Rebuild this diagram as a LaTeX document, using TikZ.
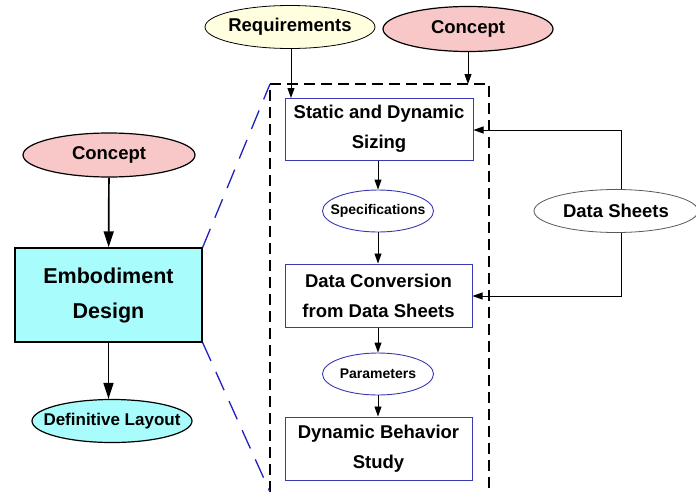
\documentclass[tikz,border=0pt]{standalone}
\usepackage{fontspec}
\setmainfont{Liberation Sans}
\usetikzlibrary{shapes.geometric,arrows.meta}
\definecolor{pinkc}{HTML}{F8C8C8}
\definecolor{yelc}{HTML}{FFFFE0}
\definecolor{cyanc}{HTML}{A8FCFC}
\definecolor{boxblue}{HTML}{3A3AB0}
\definecolor{dashblue}{HTML}{2020C0}
\newcommand{\cz}[1]{\makebox[0pt]{#1}}
\tikzset{
  x=1pt,y=-1pt,
  ell/.style={ellipse,draw=black,line width=1.2pt,inner sep=0pt,font=\bfseries\fontsize{18.5}{20}\selectfont},
  smallell/.style={ellipse,draw=boxblue,line width=0.9pt,fill=white,inner sep=0pt,font=\bfseries\fontsize{14}{15}\selectfont},
  bluebox/.style={rectangle,draw=boxblue,line width=1pt,inner sep=0pt,align=center,font=\bfseries\fontsize{18.5}{30}\selectfont},
  arr/.style={line width=1.7pt,-{Triangle[length=16pt,width=10pt]}},
  sarr/.style={line width=0.9pt,-{Triangle[length=10pt,width=7pt]}},
}
\begin{document}
\begin{tikzpicture}
\useasboundingbox (0,0) rectangle (696,493);
% left column
\node[ell,fill=pinkc,minimum width=172,minimum height=44] (conceptL) at (109,155) {\cz{Concept}};
\node[rectangle,draw=black,line width=1.4pt,fill=cyanc,minimum width=187,minimum height=94,inner sep=0pt,align=center,font=\bfseries\fontsize{21.5}{35}\selectfont] (emb) at (108.5,295) {Embodiment\\Design};
\node[ell,fill=cyanc,minimum width=160,minimum height=43,font=\bfseries\fontsize{17}{18}\selectfont] (layout) at (112,421) {\cz{Definitive Layout}};
\draw[arr] (conceptL) -- (emb);
\draw[arr] (emb) -- (emb.south |- layout.north);
% dashed frame
\coordinate (fTL) at (270,84);
\coordinate (fTR) at (489,84);
\coordinate (fBL) at (270,492);
\coordinate (fBR) at (489,492);
\draw[line width=1.8pt,dash pattern=on 11pt off 6pt] (fBL) -- (fTL) -- (fTR) -- (fBR);
% blue zoom lines
\draw[dashblue,line width=1.3pt,dash pattern=on 20pt off 12pt] (emb.north east) -- (fTL);
\draw[dashblue,line width=1.3pt,dash pattern=on 20pt off 12pt] (emb.south east) -- (fBL);
% top ellipses
\node[ell,fill=yelc,minimum width=170,minimum height=43,line width=0.8pt] (req) at (290,27) {\cz{Requirements}};
\node[ell,fill=pinkc,minimum width=170,minimum height=45] (conceptT) at (468,29) {\cz{Concept}};
% inner chain
\node[bluebox,minimum width=188,minimum height=62] (sizing) at (379,129) {Static and Dynamic\\Sizing};
\node[smallell,minimum width=111,minimum height=42] (spec) at (378,211) {\cz{Specifications}};
\node[bluebox,minimum width=187,minimum height=63] (conv) at (378.5,295.5) {Data Conversion\\from Data Sheets};
\node[smallell,minimum width=111,minimum height=42] (param) at (378,374) {\cz{Parameters}};
\node[bluebox,minimum width=187,minimum height=63] (dyn) at (378.5,448.5) {Dynamic Behavior\\Study};
\node[ell,draw=gray!70!black,line width=0.8pt,fill=white,minimum width=164,minimum height=43] (ds) at (616,211) {\cz{Data Sheets}};
% connectors
\draw[sarr] (req.south -| 291,0) -- (291,98);
\draw[sarr] (conceptT) -- (468,84);
\draw[sarr] (sizing.south -| spec) -- (spec);
\draw[sarr] (spec) -- (conv.north -| spec);
\draw[sarr] (conv.south -| param) -- (param);
\draw[sarr] (param) -- (dyn.north -| param);
\coordinate (dsTop) at (621,130);
\coordinate (dsBot) at (621,296);
\draw[sarr] (ds.north -| dsTop) -- (dsTop) -- (sizing.east |- dsTop);
\draw[sarr] (ds.south -| dsBot) -- (dsBot) -- (conv.east |- dsBot);
\end{tikzpicture}
\end{document}
